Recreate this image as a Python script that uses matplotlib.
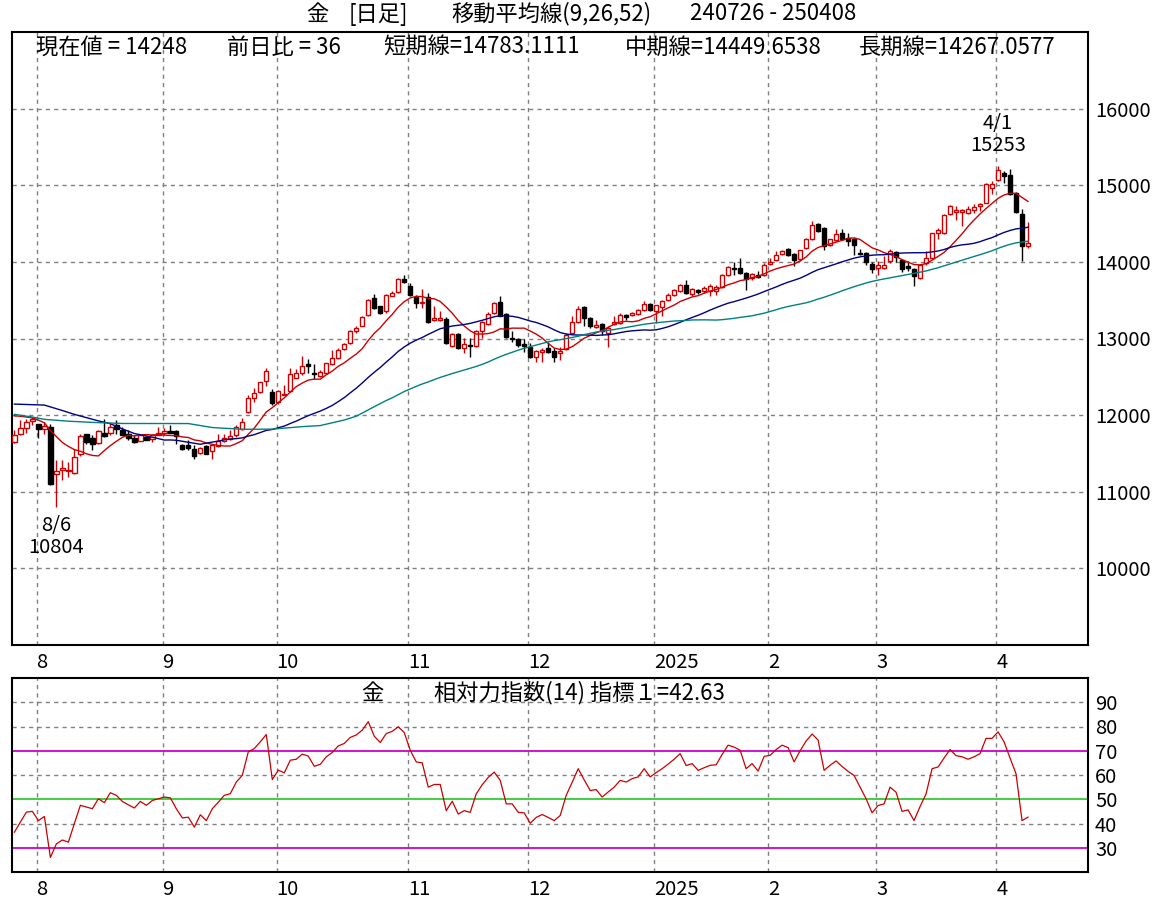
import matplotlib
matplotlib.use('Agg')
import matplotlib.pyplot as plt
import numpy as np
import pandas as pd

plt.rcParams['font.family'] = ['Noto Sans CJK JP', 'DejaVu Sans']

# ---------------- data ----------------
opens = [11651, 11760, 11834, 11925, 11886, 11825, 11847, 11236, 11288, 11275,
         11249, 11489, 11751, 11707, 11637, 11773, 11768, 11869, 11812, 11760,
         11707, 11668, 11716, 11690, 11747, 11768, 11790, 11790, 11607, 11607,
         11563, 11506, 11594, 11528, 11598, 11664, 11694, 11738, 11825, 12035,
         12227, 12297, 12450, 12306, 12175, 12262, 12319, 12489, 12546, 12664,
         12554, 12511, 12554, 12664, 12742, 12860, 12939, 13092, 13166, 13310,
         13528, 13419, 13354, 13559, 13602, 13777, 13681, 13541, 13458, 13541,
         13244, 13244, 13253, 12904, 13061, 12873, 12908, 12904, 13092, 13192,
         13332, 13471, 13323, 13013, 12995, 12926, 12895, 12764, 12830, 12873,
         12838, 12817, 12864, 13070, 13209, 13406, 13266, 13148, 13188, 13078,
         13192, 13201, 13310, 13301, 13319, 13367, 13454, 13354, 13410, 13498,
         13563, 13615, 13703, 13585, 13629, 13615, 13615, 13624, 13672, 13834,
         13921, 13921, 13856, 13790, 13834, 13834, 13978, 14022, 14105, 14170,
         14105, 14039, 14183, 14301, 14489, 14445, 14214, 14284, 14371, 14314,
         14293, 14118, 14118, 13978, 13921, 13921, 14009, 14126, 14022, 13952,
         13908, 13790, 13987, 14052, 14371, 14380, 14620, 14650, 14655, 14642,
         14677, 14729, 14773, 14969, 15065, 15166, 15131, 14904, 14629, 14209]
highs = [11803, 11934, 11943, 11978, 11890, 11913, 11878, 11410, 11410, 11389,
         11563, 11760, 11760, 11738, 11812, 11943, 11900, 11934, 11847, 11803,
         11738, 11760, 11725, 11760, 11847, 11834, 11869, 11803, 11629, 11681,
         11607, 11585, 11607, 11629, 11751, 11751, 11803, 11869, 11969, 12262,
         12349, 12437, 12611, 12340, 12327, 12393, 12611, 12598, 12773, 12729,
         12668, 12590, 12685, 12851, 12873, 12939, 13113, 13157, 13297, 13515,
         13581, 13428, 13581, 13616, 13790, 13834, 13725, 13572, 13646, 13594,
         13419, 13353, 13279, 13070, 13070, 13004, 13004, 13105, 13223, 13340,
         13471, 13559, 13332, 13092, 13004, 12991, 12939, 12851, 12873, 12960,
         12873, 12895, 13070, 13288, 13428, 13428, 13279, 13244, 13201, 13157,
         13297, 13332, 13319, 13340, 13384, 13485, 13463, 13441, 13506, 13594,
         13646, 13716, 13768, 13659, 13646, 13690, 13716, 13703, 13847, 13952,
         14000, 14052, 13864, 13856, 13878, 13987, 14052, 14140, 14161, 14183,
         14118, 14161, 14314, 14533, 14502, 14458, 14301, 14432, 14432, 14371,
         14314, 14170, 14126, 13995, 14009, 14083, 14162, 14140, 14030, 14009,
         13917, 13974, 14140, 14380, 14445, 14620, 14738, 14729, 14685, 14729,
         14751, 14773, 15026, 15057, 15253, 15188, 15218, 14913, 14694, 14519]
lows = [11640, 11738, 11773, 11869, 11707, 11760, 11090, 10804, 11148, 11192,
        11236, 11463, 11629, 11541, 11629, 11716, 11738, 11760, 11738, 11672,
        11637, 11659, 11672, 11651, 11738, 11738, 11768, 11629, 11541, 11541,
        11432, 11498, 11489, 11432, 11585, 11651, 11672, 11716, 11812, 12030,
        12175, 12284, 12380, 12131, 12144, 12262, 12306, 12480, 12524, 12554,
        12467, 12502, 12546, 12655, 12729, 12851, 12930, 13078, 13157, 13288,
        13384, 13323, 13332, 13550, 13594, 13725, 13559, 13397, 13397, 13201,
        13223, 13223, 12930, 12895, 12860, 12816, 12755, 12895, 13004, 13179,
        13323, 13288, 13004, 12960, 12895, 12830, 12742, 12698, 12698, 12808,
        12698, 12720, 12851, 13061, 13201, 13157, 13135, 13135, 13048, 12895,
        13179, 13192, 13244, 13288, 13310, 13354, 13354, 13201, 13297, 13485,
        13550, 13602, 13585, 13559, 13585, 13594, 13559, 13572, 13659, 13821,
        13834, 13843, 13637, 13768, 13790, 13821, 13965, 14009, 14096, 14083,
        13943, 14009, 14170, 14292, 14389, 14161, 14205, 14271, 14292, 14205,
        14096, 14096, 13965, 13856, 13834, 13908, 13987, 13995, 13864, 13877,
        13681, 13777, 13965, 14039, 14301, 14358, 14607, 14546, 14467, 14620,
        14642, 14664, 14764, 14882, 15057, 15035, 14869, 14642, 14017, 14175]
closes = [11738, 11834, 11913, 11943, 11825, 11856, 11096, 11266, 11310, 11285,
          11454, 11725, 11646, 11629, 11795, 11729, 11847, 11817, 11747, 11707,
          11646, 11747, 11681, 11747, 11768, 11790, 11773, 11725, 11563, 11576,
          11463, 11572, 11498, 11607, 11659, 11707, 11733, 11847, 11912, 12227,
          12293, 12428, 12576, 12153, 12314, 12275, 12533, 12554, 12642, 12642,
          12537, 12568, 12677, 12742, 12851, 12930, 13092, 13135, 13279, 13506,
          13397, 13332, 13572, 13594, 13782, 13734, 13572, 13463, 13471, 13209,
          13262, 13262, 12939, 13061, 12873, 12926, 12899, 13092, 13209, 13318,
          13463, 13297, 13017, 13000, 12917, 12904, 12755, 12843, 12851, 12830,
          12764, 12838, 13048, 13209, 13384, 13266, 13157, 13179, 13092, 13135,
          13214, 13310, 13279, 13332, 13375, 13454, 13367, 13432, 13485, 13572,
          13629, 13703, 13594, 13646, 13602, 13659, 13681, 13668, 13834, 13934,
          13912, 13856, 13777, 13843, 13799, 13965, 14000, 14096, 14140, 14096,
          14030, 14153, 14301, 14476, 14402, 14205, 14293, 14358, 14301, 14271,
          14214, 14105, 13995, 13908, 13965, 13965, 14140, 14065, 13908, 13921,
          13812, 13965, 14052, 14371, 14410, 14607, 14729, 14672, 14672, 14685,
          14720, 14760, 15013, 15013, 15196, 15122, 14882, 14650, 14212, 14248]

# moving averages before enough history exists
ma9_early_idx = [0, 1, 2, 3, 4, 5, 6, 7]
ma9_early_val = [11990, 11985, 11975, 11965, 11935, 11900, 11800, 11720]
ma26_early_idx = [0, 5, 8, 10, 14, 16, 18, 20, 23]
ma26_early_val = [12144, 12131, 12060, 12010, 11925, 11888, 11820, 11760, 11712]
ma52_early_idx = [0, 3, 5, 9, 13, 18, 23, 29, 33, 38, 43, 48]
ma52_early_val = [12010, 11975, 11945, 11921, 11905, 11891, 11890, 11890, 11838, 11815, 11817, 11850]

rsi14 = [36.4, 40.6, 44.7, 45.0, 41.2, 42.9, 26.0, 31.6, 33.2, 32.3,
         40.0, 47.5, 46.8, 46.1, 50.2, 48.6, 52.7, 51.6, 49.1, 47.7,
         46.4, 49.1, 47.5, 49.5, 50.2, 50.9, 50.6, 46.1, 42.3, 42.6,
         38.5, 43.6, 41.2, 46.1, 48.8, 51.6, 52.3, 57.1, 59.9, 69.6,
         70.9, 73.7, 76.7, 58.1, 62.0, 60.9, 66.1, 66.5, 68.6, 67.8,
         63.6, 64.4, 67.5, 69.3, 72.0, 73.0, 75.5, 76.5, 78.5, 82.0,
         76.0, 73.4, 77.1, 78.0, 79.9, 77.5, 70.2, 65.4, 65.0, 55.0,
         56.1, 56.1, 45.3, 49.2, 43.9, 45.3, 44.6, 52.2, 56.0, 59.0,
         61.2, 57.8, 48.1, 48.1, 44.6, 44.4, 40.1, 42.5, 43.7, 42.5,
         41.2, 43.3, 51.6, 57.0, 62.6, 58.0, 53.6, 54.0, 50.9, 53.0,
         55.0, 57.8, 57.1, 58.5, 59.2, 62.6, 59.2, 61.0, 62.6, 64.5,
         66.5, 68.8, 63.9, 64.7, 61.9, 63.0, 64.0, 64.2, 68.5, 72.3,
         71.5, 70.2, 62.6, 64.7, 61.6, 67.7, 68.1, 70.5, 72.3, 71.3,
         65.4, 70.0, 74.0, 76.9, 74.4, 61.9, 64.0, 65.8, 63.5, 61.5,
         59.8, 55.0, 50.2, 44.4, 47.4, 48.1, 55.0, 52.9, 45.0, 45.6,
         41.2, 47.0, 52.2, 62.6, 63.3, 67.0, 70.5, 68.0, 67.5, 66.5,
         67.5, 68.8, 75.1, 75.1, 77.8, 73.7, 67.0, 60.5, 41.2, 42.63]

month_idx = [4, 25, 44, 66, 86, 107, 126, 144, 164]
month_labels = ['8', '9', '10', '11', '12', '2025', '2', '3', '4']
price_ticks = [10000, 11000, 12000, 13000, 14000, 15000, 16000]
rsi_ticks = [30, 40, 50, 60, 70, 80, 90]

title_parts = ['金', '[日足]', '移動平均線(9,26,52)', '240726 - 250408']
info_texts = ['現在値 = 14248', '前日比 = 36', '短期線=14783.1111',
              '中期線=14449.6538', '長期線=14267.0577']
rsi_title = ['金', '相対力指数(14) 指標１=42.63']
hi_label = ['4/1', '15253']
lo_label = ['8/6', '10804']

# ---------------- figure ----------------
W, H = 1171, 902
fig = plt.figure(figsize=(W / 100, H / 100), dpi=100)
fig.patch.set_facecolor('white')


def fx(px):
    return px / W


def fy(py):
    return 1 - py / H


RED = '#cc0000'
NAVY = '#000080'
TEAL = '#008080'
GRID = '#808080'
FS = 14.5
FT = 16

ax = fig.add_axes([fx(12), fy(645), fx(1088) - fx(12), fy(32) - fy(645)])
ax2 = fig.add_axes([fx(12), fy(872), fx(1088) - fx(12), fy(678) - fy(872)])

o = np.array(opens, float)
h = np.array(highs, float)
l = np.array(lows, float)
c = np.array(closes, float)
idx = np.arange(len(c))
up = c >= o

# wicks
ax.vlines(idx[up], l[up], h[up], color=RED, lw=1, zorder=2)
ax.vlines(idx[~up], l[~up], h[~up], color='black', lw=1, zorder=2)
# bodies
bb = np.minimum(o, c)
bh = np.maximum(np.abs(c - o), 10)
ax.bar(idx[up], bh[up], bottom=bb[up], width=0.72, facecolor='white',
       edgecolor=RED, lw=1, zorder=3)
ax.bar(idx[~up], bh[~up], bottom=bb[~up], width=0.72, facecolor='black',
       edgecolor='black', lw=1, zorder=3)

# moving averages
cs = pd.Series(c)
for win, eidx, evals, col in [(9, ma9_early_idx, ma9_early_val, RED),
                              (26, ma26_early_idx, ma26_early_val, NAVY),
                              (52, ma52_early_idx, ma52_early_val, TEAL)]:
    ma = cs.rolling(win).mean().values
    xs = list(eidx) + list(idx[win - 1:])
    ys = list(evals) + list(ma[win - 1:])
    ax.plot(xs, ys, color=col, lw=1, zorder=4)

XMIN, XMAX = -0.4, 179.0
for a in (ax, ax2):
    a.set_xlim(XMIN, XMAX)
    for s in a.spines.values():
        s.set_linewidth(1.5)
        s.set_color('black')
    for m in month_idx:
        a.axvline(m - 0.3, color=GRID, lw=1, ls=(0, (3, 3)), zorder=1)
    a.set_xticks([m - 0.3 for m in month_idx])
    a.set_xticklabels(month_labels, fontsize=FS)
    for t in a.get_xticklabels():
        t.set_ha('left')
    a.tick_params(axis='x', length=0, pad=5)
    a.yaxis.tick_right()
    a.tick_params(axis='y', length=0, pad=5, labelsize=FS)

ax.set_ylim(9000, 17000)
ax.set_yticks(price_ticks)
ax.set_yticklabels([str(v) for v in price_ticks])
for v in price_ticks:
    ax.axhline(v, color=GRID, lw=1, ls=(0, (3, 3)), zorder=1)

# annotations for extremes
ih = int(np.argmax(h))
il = int(np.argmin(l))
ax.text(ih, h[ih] + 130, '\n'.join(hi_label), ha='center', va='bottom',
        multialignment='center', linespacing=1.05, fontsize=FS)
ax.text(il, l[il] - 110, '\n'.join(lo_label), ha='center', va='top',
        multialignment='center', linespacing=1.05, fontsize=FS)

# RSI panel
ax2.set_ylim(20, 100)
ax2.set_yticks(rsi_ticks)
ax2.set_yticklabels([str(v) for v in rsi_ticks])
for v in [40, 60, 80, 90]:
    ax2.axhline(v, color=GRID, lw=1, ls=(0, (3, 3)), zorder=1)
ax2.axhline(70, color='#cc00cc', lw=1.3, zorder=2)
ax2.axhline(30, color='#cc00cc', lw=1.3, zorder=2)
ax2.axhline(50, color='#33cc33', lw=1.3, zorder=2)
ax2.plot(idx, rsi14, color=RED, lw=0.9, zorder=3)

# texts
for xc, t in zip([317, 378, 551, 773], title_parts):
    fig.text(fx(xc), fy(14), t, ha='center', va='center', fontsize=FT)
for xc, t in zip([112, 284, 482, 723, 957], info_texts):
    fig.text(fx(xc), fy(47), t, ha='center', va='center', fontsize=FT)
fig.text(fx(372), fy(693), rsi_title[0], ha='center', va='center', fontsize=FT)
fig.text(fx(579), fy(693), rsi_title[1], ha='center', va='center', fontsize=FT)

fig.savefig('out.png', dpi=100, facecolor='white')
